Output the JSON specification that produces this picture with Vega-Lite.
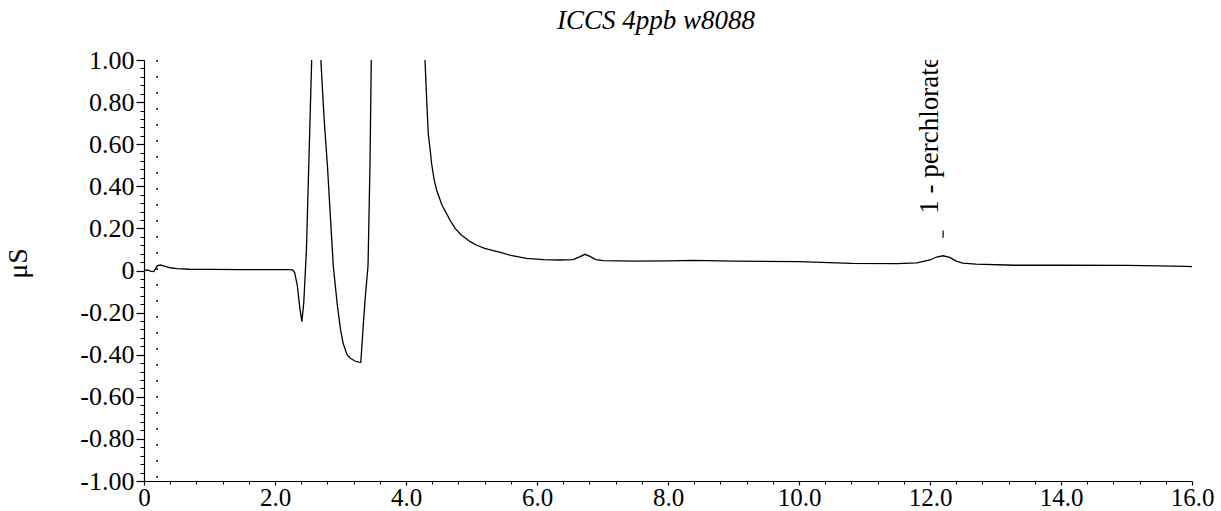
{
  "$schema": "https://vega.github.io/schema/vega-lite/v6.json",
  "width": 1048,
  "height": 421,
  "autosize": "none",
  "padding": {"left": 144, "top": 60, "right": 29, "bottom": 30},
  "background": "white",
  "config": {"view": {"stroke": null}, "font": "Liberation Serif"},
  "title": {"text": "ICCS 4ppb w8088", "font": "Liberation Serif", "fontStyle": "italic", "fontWeight": "normal", "fontSize": 27, "color": "black", "anchor": "middle", "dx": -12, "offset": 12},
  "datasets": {
    "trace": [
      {"t": 0.00, "v": 0.000}, {"t": 0.05, "v": 0.003}, {"t": 0.10, "v": -0.003}, {"t": 0.15, "v": -0.005},
      {"t": 0.17, "v": 0.005}, {"t": 0.20, "v": 0.022}, {"t": 0.25, "v": 0.026}, {"t": 0.30, "v": 0.022},
      {"t": 0.40, "v": 0.013}, {"t": 0.50, "v": 0.009}, {"t": 0.70, "v": 0.006}, {"t": 1.00, "v": 0.005},
      {"t": 1.50, "v": 0.004}, {"t": 2.00, "v": 0.004}, {"t": 2.20, "v": 0.004}, {"t": 2.27, "v": 0.003},
      {"t": 2.30, "v": -0.01}, {"t": 2.34, "v": -0.07}, {"t": 2.38, "v": -0.18}, {"t": 2.41, "v": -0.243},
      {"t": 2.44, "v": -0.15}, {"t": 2.48, "v": 0.10}, {"t": 2.52, "v": 0.55}, {"t": 2.56, "v": 1.0},
      {"t": 2.60, "v": 1.3}, {"t": 2.64, "v": 1.3}, {"t": 2.70, "v": 1.0}, {"t": 2.75, "v": 0.72},
      {"t": 2.80, "v": 0.50}, {"t": 2.89, "v": 0.02}, {"t": 2.95, "v": -0.16}, {"t": 3.00, "v": -0.28},
      {"t": 3.04, "v": -0.346}, {"t": 3.10, "v": -0.40}, {"t": 3.15, "v": -0.417}, {"t": 3.22, "v": -0.43},
      {"t": 3.28, "v": -0.435}, {"t": 3.31, "v": -0.436}, {"t": 3.35, "v": -0.25}, {"t": 3.38, "v": -0.12},
      {"t": 3.42, "v": 0.02}, {"t": 3.45, "v": 0.5}, {"t": 3.47, "v": 1.0}, {"t": 3.55, "v": 3.0},
      {"t": 3.65, "v": 4.5}, {"t": 3.80, "v": 4.0}, {"t": 4.00, "v": 2.5}, {"t": 4.20, "v": 1.3},
      {"t": 4.29, "v": 1.0}, {"t": 4.32, "v": 0.78}, {"t": 4.34, "v": 0.65}, {"t": 4.37, "v": 0.57},
      {"t": 4.39, "v": 0.51}, {"t": 4.43, "v": 0.43}, {"t": 4.47, "v": 0.38}, {"t": 4.55, "v": 0.31},
      {"t": 4.62, "v": 0.27}, {"t": 4.67, "v": 0.24}, {"t": 4.75, "v": 0.20}, {"t": 4.84, "v": 0.17},
      {"t": 4.98, "v": 0.137}, {"t": 5.08, "v": 0.12}, {"t": 5.20, "v": 0.105}, {"t": 5.44, "v": 0.086},
      {"t": 5.60, "v": 0.072}, {"t": 5.84, "v": 0.058}, {"t": 6.10, "v": 0.052}, {"t": 6.35, "v": 0.050},
      {"t": 6.55, "v": 0.052}, {"t": 6.65, "v": 0.065}, {"t": 6.73, "v": 0.077}, {"t": 6.80, "v": 0.068},
      {"t": 6.90, "v": 0.052}, {"t": 7.01, "v": 0.047}, {"t": 7.50, "v": 0.045}, {"t": 8.00, "v": 0.046},
      {"t": 8.38, "v": 0.048}, {"t": 9.00, "v": 0.045}, {"t": 10.00, "v": 0.042}, {"t": 10.80, "v": 0.034},
      {"t": 11.50, "v": 0.033}, {"t": 11.80, "v": 0.036}, {"t": 12.00, "v": 0.050}, {"t": 12.10, "v": 0.064},
      {"t": 12.20, "v": 0.070}, {"t": 12.30, "v": 0.062}, {"t": 12.40, "v": 0.045}, {"t": 12.50, "v": 0.035},
      {"t": 12.70, "v": 0.030}, {"t": 13.30, "v": 0.025}, {"t": 14.00, "v": 0.025}, {"t": 15.00, "v": 0.024},
      {"t": 15.50, "v": 0.022}, {"t": 15.90, "v": 0.020}, {"t": 16.00, "v": 0.018}
    ],
    "marker": [{"t": 0.2}],
    "ann": [{"t": 12.2, "v": 0.155, "v2": 0.19, "lv": 0.27, "label": "1 - perchlorate"}]
  },
  "layer": [
    {
      "data": {"name": "trace"},
      "mark": {"type": "line", "color": "black", "strokeWidth": 1.3, "clip": true},
      "encoding": {
        "x": {"field": "t", "type": "quantitative", "scale": {"domain": [0, 16], "nice": false, "zero": false},
          "axis": {"orient": "bottom", "values": [0, 2, 4, 6, 8, 10, 12, 14, 16], "labelExpr": "datum.value == 0 ? '0' : format(datum.value, '.1f')",
            "title": null, "grid": false, "domainColor": "black", "domainWidth": 1.2, "tickColor": "black", "tickSize": 4, "tickWidth": 1.2,
            "labelFont": "Liberation Serif", "labelFontSize": 25, "labelColor": "black", "labelPadding": 0, "labelFlush": false, "labelOverlap": false}},
        "y": {"field": "v", "type": "quantitative", "scale": {"domain": [-1, 1], "nice": false, "zero": false},
          "axis": {"orient": "left", "values": [-1, -0.8, -0.6, -0.4, -0.2, 0, 0.2, 0.4, 0.6, 0.8, 1], "labelExpr": "datum.value == 0 ? '0' : replace(format(datum.value, '.2f'), '\u2212', '-')",
            "grid": false, "domainColor": "black", "domainWidth": 1.2, "tickColor": "black", "tickSize": 8, "tickWidth": 1.2,
            "labelFont": "Liberation Serif", "labelFontSize": 26, "labelColor": "black", "labelPadding": 2, "labelFlush": false, "labelOverlap": false,
            "title": "μS", "titleFont": "Liberation Serif", "titleFontSize": 28, "titleFontWeight": "normal", "titleColor": "black",
            "titleAngle": 270, "titleX": -126, "titleY": 203, "titleBaseline": "middle", "titleAlign": "center"}}
      }
    },
    {
      "data": {"name": "marker"},
      "mark": {"type": "rule", "color": "black", "strokeWidth": 1.5, "strokeDash": [2, 14]},
      "encoding": {
        "x": {"field": "t", "type": "quantitative",
          "axis": {"orient": "bottom", "values": [0.4, 0.8, 1.2, 1.6, 2.4, 2.8, 3.2, 3.6, 4.4, 4.8, 5.2, 5.6, 6.4, 6.8, 7.2, 7.6, 8.4, 8.8, 9.2, 9.6, 10.4, 10.8, 11.2, 11.6, 12.4, 12.8, 13.2, 13.6, 14.4, 14.8, 15.2, 15.6],
            "labels": false, "domain": false, "grid": false, "title": null, "tickColor": "black", "tickSize": 3, "tickWidth": 1}}
      }
    },
    {
      "data": {"name": "ann"},
      "mark": {"type": "rule", "color": "black", "strokeWidth": 1.2},
      "encoding": {
        "x": {"field": "t", "type": "quantitative", "axis": null},
        "y": {"field": "v", "type": "quantitative",
          "axis": {"orient": "left", "values": [-0.96, -0.92, -0.88, -0.84, -0.76, -0.72, -0.68, -0.64, -0.56, -0.52, -0.48, -0.44, -0.36, -0.32, -0.28, -0.24, -0.16, -0.12, -0.08, -0.04, 0.04, 0.08, 0.12, 0.16, 0.24, 0.28, 0.32, 0.36, 0.44, 0.48, 0.52, 0.56, 0.64, 0.68, 0.72, 0.76, 0.84, 0.88, 0.92, 0.96],
            "labels": false, "domain": false, "grid": false, "title": null, "tickColor": "black", "tickSize": 4, "tickWidth": 1}},
        "y2": {"field": "v2"}
      }
    },
    {
      "data": {"name": "ann"},
      "mark": {"type": "text", "angle": 270, "align": "left", "baseline": "alphabetic", "dy": -5, "font": "Liberation Serif", "fontSize": 27, "color": "black", "clip": true},
      "encoding": {
        "x": {"field": "t", "type": "quantitative", "axis": null},
        "y": {"field": "lv", "type": "quantitative", "axis": null},
        "text": {"field": "label"}
      }
    }
  ],
  "resolve": {"axis": {"x": "independent", "y": "independent"}}
}
